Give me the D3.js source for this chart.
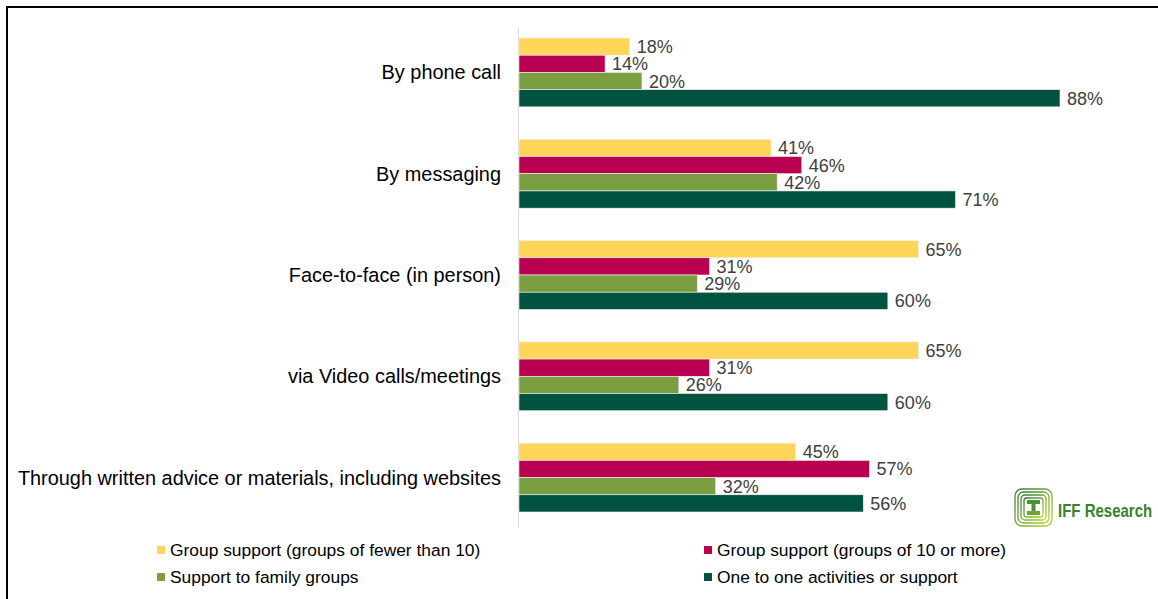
<!DOCTYPE html>
<html>
<head>
<meta charset="utf-8">
<script src="https://cdn.jsdelivr.net/npm/d3@7"></script>
<style>
  html, body { margin: 0; padding: 0; background: #fff; }
  svg { display: block; font-family: "Liberation Sans", Arial, sans-serif; }
</style>
</head>
<body>
<svg id="chart" width="1158" height="599"></svg>
<script>
// Channels of delivery, one group of bars per channel
const categories = [
  "By phone call",
  "By messaging",
  "Face-to-face (in person)",
  "via Video calls/meetings",
  "Through written advice or materials, including websites"
];

// Series names and colours, in drawing order within each group
const seriesNames = [
  "Group support (groups of fewer than 10)",
  "Group support (groups of 10 or more)",
  "Support to family groups",
  "One to one activities or support"
];
const seriesColors = ["#FFD55A", "#BA0051", "#7B9E41", "#00543F"];

// Percentages per series, aligned with categories
const groupsUnder10 = [18, 41, 65, 65, 45];
const groups10Plus  = [14, 46, 31, 31, 57];
const familyGroups  = [20, 42, 29, 26, 32];
const oneToOne      = [88, 71, 60, 60, 56];

const seriesValues = [groupsUnder10, groups10Plus, familyGroups, oneToOne];

const svg = d3.select("#chart");

// outer frame (top and left edges visible)
svg.append("rect")
  .attr("x", 7).attr("y", 7)
  .attr("width", 1200).attr("height", 700)
  .attr("fill", "none").attr("stroke", "#000").attr("stroke-width", 2);

const x0 = 519;
const x = d3.scaleLinear().domain([0, 88]).range([x0, 1060]);

const y = d3.scaleBand().domain(categories).range([38, 512]).paddingInner(0.32);
const ySub = d3.scaleBand().domain(d3.range(seriesNames.length)).range([0, y.bandwidth()]);

// category axis line
svg.append("line")
  .attr("x1", x0 - 0.5).attr("x2", x0 - 0.5)
  .attr("y1", 28).attr("y2", 528)
  .attr("stroke", "#d9d9d9").attr("stroke-width", 1);

const groups = svg.selectAll("g.cat")
  .data(categories)
  .join("g")
  .attr("class", "cat")
  .attr("transform", d => `translate(0,${y(d)})`);

groups.append("text")
  .attr("x", 501)
  .attr("y", y.bandwidth() / 2)
  .attr("text-anchor", "end")
  .attr("dominant-baseline", "central")
  .attr("font-size", 19.9)
  .attr("fill", "#000")
  .text(d => d);

groups.each(function(cat, ci) {
  const g = d3.select(this);
  seriesValues.forEach((vals, si) => {
    const v = vals[ci];
    g.append("rect")
      .attr("x", x(0))
      .attr("y", ySub(si))
      .attr("width", x(v) - x(0))
      .attr("height", ySub.bandwidth())
      .attr("fill", seriesColors[si])
      .attr("stroke", "#f2f2f2")
      .attr("stroke-width", 0.6);
    g.append("text")
      .attr("x", x(v) + 7)
      .attr("y", ySub(si) + ySub.bandwidth() / 2 + 0.5)
      .attr("dominant-baseline", "central")
      .attr("font-size", 18)
      .attr("fill", "#404040")
      .text(v + "%");
  });
});

// legend, two columns by two rows
const legendPos = [[157, 550], [704, 550], [157, 577], [704, 577]];
const legend = svg.selectAll("g.legend")
  .data(seriesNames)
  .join("g")
  .attr("class", "legend")
  .attr("transform", (d, i) => `translate(${legendPos[i][0]},${legendPos[i][1]})`);
legend.append("rect")
  .attr("x", 0).attr("y", -4)
  .attr("width", 8).attr("height", 8)
  .attr("fill", (d, i) => seriesColors[i]);
legend.append("text")
  .attr("x", 13).attr("y", 0)
  .attr("dominant-baseline", "central")
  .attr("font-size", 17.4)
  .attr("fill", "#000")
  .text(d => d);

// IFF Research logo
const logo = svg.append("g").attr("transform", "translate(1015,489)");
const grad = svg.append("defs").append("linearGradient")
  .attr("id", "logoGrad").attr("x1", "0").attr("y1", "0").attr("x2", "1").attr("y2", "1");
grad.append("stop").attr("offset", "0").attr("stop-color", "#2f7d3a");
grad.append("stop").attr("offset", "1").attr("stop-color", "#b8d432");
[0, 3, 6, 9].forEach(o => {
  logo.append("rect")
    .attr("x", o).attr("y", o)
    .attr("width", 37 - 2 * o).attr("height", 37 - 2 * o)
    .attr("rx", 7 - o * 0.5)
    .attr("fill", "none")
    .attr("stroke", "url(#logoGrad)")
    .attr("stroke-width", 1.3);
});
logo.append("rect").attr("x", 12).attr("y", 11).attr("width", 13).attr("height", 4).attr("fill", "#4d8f33");
logo.append("rect").attr("x", 16.5).attr("y", 11).attr("width", 4).attr("height", 15).attr("fill", "#4d8f33");
logo.append("rect").attr("x", 12).attr("y", 22).attr("width", 13).attr("height", 4).attr("fill", "#6aa536");
svg.append("text")
  .attr("transform", "translate(1058,517) scale(0.91,1.15)")
  .attr("font-size", 16.5)
  .attr("font-weight", "bold")
  .attr("fill", "#3c7f2e")
  .text("IFF Research");
</script>
</body>
</html>
